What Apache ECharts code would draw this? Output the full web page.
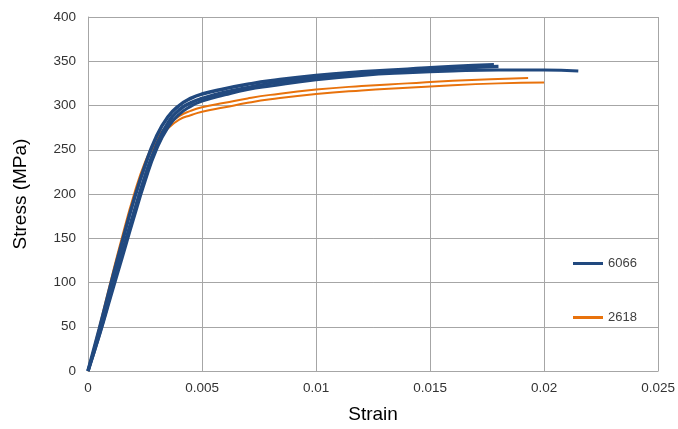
<!DOCTYPE html>
<html>
<head>
<meta charset="utf-8">
<script src="https://cdn.jsdelivr.net/npm/echarts@6/dist/echarts.min.js"></script>
<style>
  html, body { margin: 0; padding: 0; background: #fff; }
  #chart { width: 678px; height: 429px; }
</style>
</head>
<body>
<div id="chart"></div>
<script>
// 6066 specimens
const strainA1 = [0, 0.0005, 0.001, 0.0015, 0.002, 0.0025, 0.003, 0.0035, 0.004, 0.0045, 0.005, 0.006, 0.007, 0.008, 0.01, 0.012, 0.014, 0.016, 0.0178];
const stressA1 = [0, 48, 98, 146, 192, 232, 265, 287, 300, 308, 313, 319, 324, 328, 334, 338, 341, 344, 346];
const strainA2 = [0, 0.0005, 0.001, 0.0015, 0.002, 0.0025, 0.003, 0.0035, 0.004, 0.0045, 0.005, 0.006, 0.007, 0.008, 0.01, 0.012, 0.014, 0.016, 0.018];
const stressA2 = [0, 42, 88, 134, 178, 220, 255, 280, 295, 303, 308, 315, 320, 325, 331, 336, 339, 342, 344];
const strainA3 = [0, 0.0005, 0.001, 0.0015, 0.002, 0.0025, 0.003, 0.0035, 0.004, 0.0045, 0.005, 0.006, 0.007, 0.008, 0.01, 0.012, 0.014, 0.016, 0.018, 0.02, 0.0215];
const stressA3 = [0, 40, 84, 128, 172, 214, 250, 275, 290, 299, 305, 312, 318, 322, 329, 334, 337, 339, 340, 340, 339];

// 2618 specimens
const strainB1 = [0, 0.0005, 0.001, 0.0015, 0.002, 0.0025, 0.003, 0.0035, 0.004, 0.0045, 0.005, 0.006, 0.007, 0.008, 0.01, 0.012, 0.014, 0.016, 0.0193];
const stressB1 = [0, 50, 102, 152, 198, 236, 262, 278, 288, 294, 298, 303, 308, 312, 318, 322, 325, 328, 331];
const strainB2 = [0, 0.0005, 0.001, 0.0015, 0.002, 0.0025, 0.003, 0.0035, 0.004, 0.0045, 0.005, 0.006, 0.007, 0.008, 0.01, 0.012, 0.014, 0.016, 0.018, 0.02];
const stressB2 = [0, 48, 98, 148, 193, 232, 258, 274, 284, 289, 293, 298, 303, 307, 313, 317, 320, 323, 325, 326];

const blue = '#21497f';
const orange = '#e8720c';

function pairs(xs, ys) {
  return xs.map((x, i) => [x, ys[i]]);
}

function curve(name, xs, ys, color, width) {
  return {
    name: name,
    type: 'line',
    data: pairs(xs, ys),
    smooth: true,
    showSymbol: false,
    lineStyle: { color: color, width: width },
    itemStyle: { color: color },
  };
}

const chart = echarts.init(document.getElementById('chart'));
const gridColor = '#a6a6a6';
chart.setOption({
  animation: false,
  grid: { left: 88, right: 18, top: 17, bottom: 55 },
  legend: {
    data: ['6066', '2618'],
    orient: 'vertical',
    left: 568,
    top: 252,
    itemGap: 41,
    itemWidth: 30,
    itemHeight: 3,
    icon: 'rect',
    textStyle: { fontSize: 13, color: '#404040', fontFamily: 'Liberation Sans' },
  },
  xAxis: {
    type: 'value',
    min: 0,
    max: 0.025,
    interval: 0.005,
    name: 'Strain',
    nameLocation: 'middle',
    nameGap: 34,
    nameTextStyle: { fontSize: 19, color: '#000', fontFamily: 'Liberation Sans' },
    axisLine: { lineStyle: { color: gridColor } },
    axisTick: { show: false },
    axisLabel: { fontSize: 13.5, color: '#333', margin: 10, fontFamily: 'Liberation Sans' },
    splitLine: { lineStyle: { color: gridColor } },
  },
  yAxis: {
    type: 'value',
    min: 0,
    max: 400,
    interval: 50,
    name: 'Stress (MPa)',
    nameLocation: 'middle',
    nameGap: 58,
    nameTextStyle: { fontSize: 19, color: '#000', fontFamily: 'Liberation Sans' },
    axisLine: { show: true, lineStyle: { color: gridColor } },
    axisTick: { show: false },
    axisLabel: { fontSize: 13.5, color: '#333', margin: 12, fontFamily: 'Liberation Sans' },
    splitLine: { lineStyle: { color: gridColor } },
  },
  series: [
    curve('2618', strainB2, stressB2, orange, 2),
    curve('2618', strainB1, stressB1, orange, 2),
    curve('6066', strainA3, stressA3, blue, 3),
    curve('6066', strainA2, stressA2, blue, 3.5),
    curve('6066', strainA1, stressA1, blue, 3.5),
  ],
});
</script>
</body>
</html>
